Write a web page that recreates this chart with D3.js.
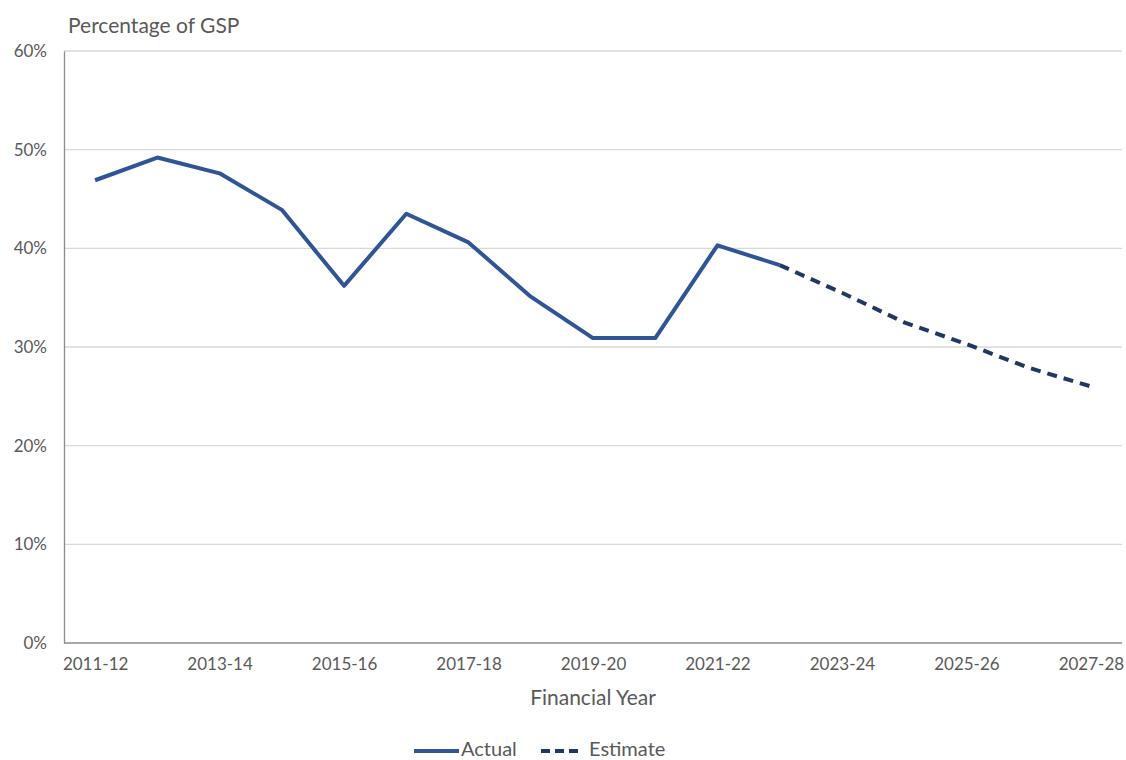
<!DOCTYPE html>
<html>
<head>
<meta charset="utf-8">
<script src="https://cdn.jsdelivr.net/npm/d3@7"></script>
<style>
  html, body { margin: 0; padding: 0; background: #fff; }
  svg text { font-family: Lato, "Open Sans", sans-serif; fill: #595959; }
</style>
</head>
<body>
<svg id="chart" width="1126" height="760"></svg>
<script>
// Financial years shown on the category axis
const years = ["2011-12","2012-13","2013-14","2014-15","2015-16","2016-17","2017-18","2018-19",
  "2019-20","2020-21","2021-22","2022-23","2023-24","2024-25","2025-26","2026-27","2027-28"];
// Only every second year is labelled
const tickLabels = ["2011-12","2013-14","2015-16","2017-18","2019-20","2021-22","2023-24","2025-26","2027-28"];
// Actual outcomes (% of GSP)
const actualYears = ["2011-12","2012-13","2013-14","2014-15","2015-16","2016-17","2017-18","2018-19",
  "2019-20","2020-21","2021-22","2022-23"];
const actualValues = [46.9, 49.2, 47.6, 43.9, 36.2, 43.5, 40.6, 35.1, 30.9, 30.9, 40.3, 38.3];
// Estimates, starting from the last actual year
const estimateYears = ["2022-23","2023-24","2024-25","2025-26","2026-27","2027-28"];
const estimateValues = [38.3, 35.5, 32.5, 30.3, 27.9, 26.0];
const yTicks = [0, 10, 20, 30, 40, 50, 60];

const svg = d3.select("#chart");
const margin = { left: 64, right: 4, top: 51, bottom: 117 };
const W = 1126, H = 760;
const x = d3.scalePoint().domain(years).range([margin.left, W - margin.right]).padding(0.5);
const y = d3.scaleLinear().domain([0, 60]).range([H - margin.bottom, margin.top]);

// Horizontal gridlines
svg.append("g").selectAll("line").data(yTicks.filter(d => d > 0)).join("line")
  .attr("x1", margin.left).attr("x2", W - margin.right)
  .attr("y1", d => y(d)).attr("y2", d => y(d))
  .attr("stroke", "#d9d9d9").attr("stroke-width", 1.3);

// Y axis
const yAxis = svg.append("g").attr("transform", `translate(${margin.left},0)`)
  .call(d3.axisLeft(y).tickValues(yTicks).tickFormat(d => d + "%").tickSize(0).tickPadding(17));
yAxis.select(".domain").attr("stroke", "#8c8c8c").attr("stroke-width", 1.3);
yAxis.selectAll("text").style("font-size", "17px").attr("fill", "#595959");

// X axis
const xAxis = svg.append("g").attr("transform", `translate(0,${H - margin.bottom})`)
  .call(d3.axisBottom(x).tickValues(tickLabels).tickSize(0).tickPadding(15));
xAxis.select(".domain").attr("stroke", "#8c8c8c").attr("stroke-width", 1.3)
  .attr("d", `M${margin.left},0H${W - margin.right}`);
xAxis.selectAll("text").style("font-size", "17px").attr("fill", "#595959");

// Axis titles
svg.append("text").attr("x", 68).attr("y", 33).style("font-size", "21px").text("Percentage of GSP");
svg.append("text").attr("x", 593).attr("y", 705).attr("text-anchor", "middle")
  .style("font-size", "21px").text("Financial Year");

const line = d3.line().x(d => x(d[0])).y(d => y(d[1]));

svg.append("path").datum(d3.zip(estimateYears, estimateValues))
  .attr("d", line).attr("fill", "none").attr("stroke", "#203864")
  .attr("stroke-width", 4).attr("stroke-dasharray", "10,7");

svg.append("path").datum(d3.zip(actualYears, actualValues))
  .attr("d", line).attr("fill", "none").attr("stroke", "#2f5597")
  .attr("stroke-width", 4).attr("stroke-linejoin", "round");

// Legend
const lg = svg.append("g");
lg.append("line").attr("x1", 414).attr("x2", 459).attr("y1", 751).attr("y2", 751)
  .attr("stroke", "#2f5597").attr("stroke-width", 4);
lg.append("text").attr("x", 461).attr("y", 756).style("font-size", "20px").text("Actual");
lg.append("line").attr("x1", 541).attr("x2", 582).attr("y1", 751).attr("y2", 751)
  .attr("stroke", "#203864").attr("stroke-width", 4).attr("stroke-dasharray", "9,5");
lg.append("text").attr("x", 589).attr("y", 756).style("font-size", "20px").text("Estimate");
</script>
</body>
</html>
